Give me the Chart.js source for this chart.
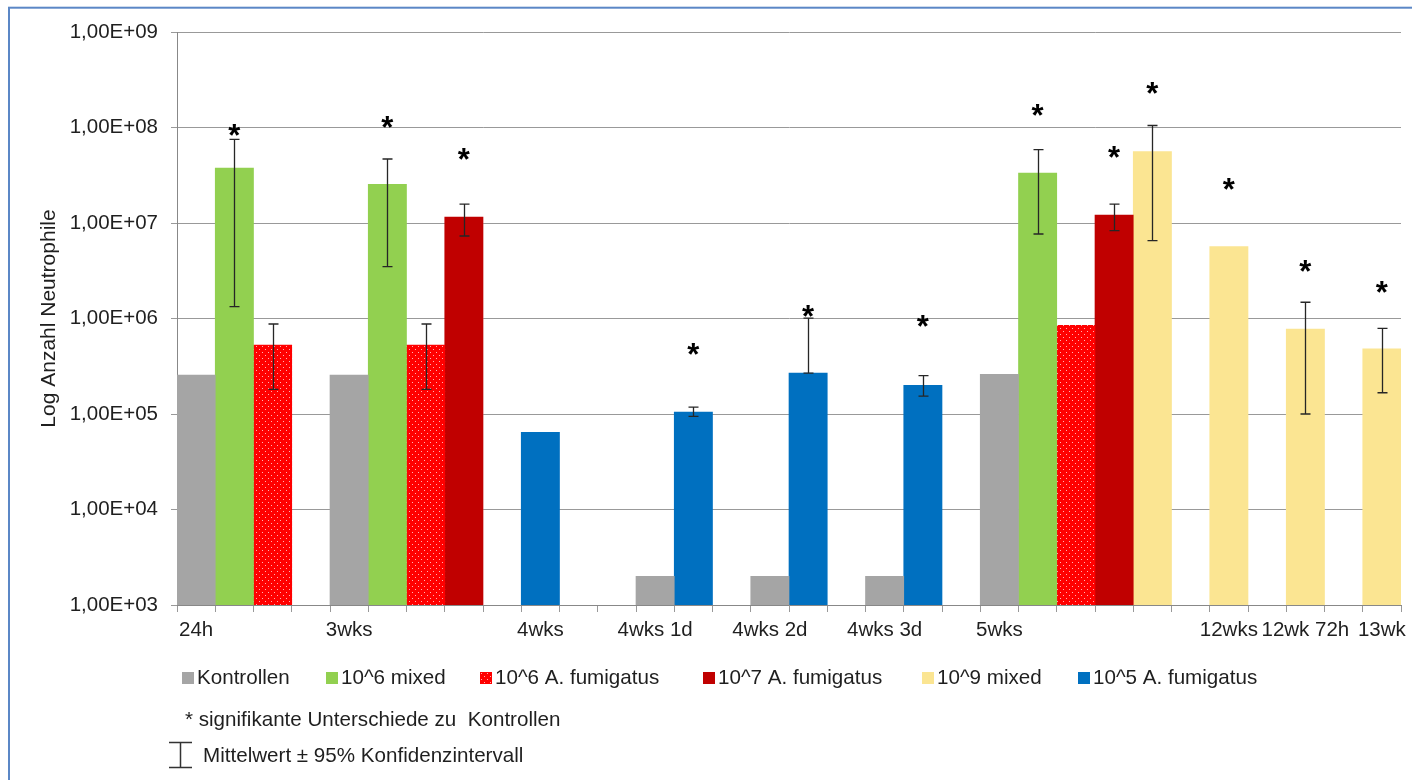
<!DOCTYPE html>
<html>
<head>
<meta charset="utf-8">
<title>Neutrophile</title>
<script src="https://cdn.jsdelivr.net/npm/chart.js@4.4.1/dist/chart.umd.min.js"></script>
<style>
  html, body { margin: 0; padding: 0; background: #fff; }
  #wrap { width: 1412px; height: 780px; }
</style>
</head>
<body>
<div id="wrap"><canvas id="chart" width="1412" height="780"></canvas></div>
<script>
const _ = null;

// one slot per bar position on the x axis
const slotLabels = ['24h', '', '', '', '3wks', '', '', '', '', '4wks', '', '', '4wks 1d', '', '', '4wks 2d', '', '',
    '4wks 3d', '', '', '5wks', '', '', '', '', '', '12wks', '', '12wk 72h', '', '13wk'];

const kontrollen = [2.56e5, _, _, _,  2.56e5, _, _, _, _,  _, _, _,  2e3, _, _,  2e3, _, _,  2e3, _, _,
    2.6e5, _, _, _, _, _,  _, _,  _, _,  _];
const mixed6 = [_, 3.77e7, _, _,  _, 2.54e7, _, _, _,  _, _, _,  _, _, _,  _, _, _,  _, _, _,
    _, 3.34e7, _, _, _, _,  _, _,  _, _,  _];
const fumigatus6 = [_, _, 5.28e5, _,  _, _, 5.28e5, _, _,  _, _, _,  _, _, _,  _, _, _,  _, _, _,
    _, _, 8.5e5, _, _, _,  _, _,  _, _,  _];
const fumigatus7 = [_, _, _, _,  _, _, _, 1.15e7, _,  _, _, _,  _, _, _,  _, _, _,  _, _, _,
    _, _, _, 1.21e7, _, _,  _, _,  _, _,  _];
const mixed9 = [_, _, _, _,  _, _, _, _, _,  _, _, _,  _, _, _,  _, _, _,  _, _, _,
    _, _, _, _, 5.58e7, _,  5.65e6, _,  7.76e5, _,  4.8e5];
const fumigatus5 = [_, _, _, _,  _, _, _, _, _,  6.43e4, _, _,  _, 1.05e5, _,  _, 2.69e5, _,  _, 2.0e5, _,
    _, _, _, _, _, _,  _, _,  _, _,  _];

// 95% confidence interval per slot
const ciLow = [_, 1.33e6, 1.81e5, _,  _, 3.49e6, 1.81e5, 7.31e6, _,  _, _, _,  _, 9.46e4, _,  _, 2.68e5, _,
    _, 1.54e5, _,  _, 7.67e6, _, 8.31e6, 6.53e6, _,  _, _,  1.0e5, _,  1.67e5];
const ciHigh = [_, 7.52e7, 8.76e5, _,  _, 4.68e7, 8.76e5, 1.58e7, _,  _, _, _,  _, 1.18e5, _,  _, 1.01e6, _,
    _, 2.52e5, _,  _, 5.86e7, _, 1.58e7, 1.05e8, _,  _, _,  1.48e6, _,  7.9e5];

// height of the significance asterisk per slot
const starLevel = [_, 9.65e7, _, _,  _, 1.18e8, _, 5.41e7, _,  _, _, _,  _, 4.93e5, _,  _, 1.24e6, _,
    _, 9.53e5, _,  _, 1.56e8, _, 5.67e7, 2.66e8, _,  2.62e7, _,  3.63e6, _,  2.19e6];

const yTicks = [1e3, 1e4, 1e5, 1e6, 1e7, 1e8, 1e9];
const yTickLabels = ['1,00E+03', '1,00E+04', '1,00E+05', '1,00E+06', '1,00E+07', '1,00E+08', '1,00E+09'];

const FONT = "'Liberation Sans', Arial, sans-serif";
const TEXT = '#1f1f1f';

function dotted(color) {
    const c = document.createElement('canvas');
    c.width = 6; c.height = 6;
    const g = c.getContext('2d');
    g.fillStyle = color;
    g.fillRect(0, 0, 6, 6);
    g.fillStyle = 'rgba(255,255,255,0.7)';
    g.fillRect(1, 1, 1, 1);
    g.fillRect(4, 4, 1, 1);
    return g.createPattern(c, 'repeat');
}

var errorBars = {
    id: 'errorBars',
    afterDatasetsDraw: function (chart) {
        const ctx = chart.ctx, x = chart.scales.x, y = chart.scales.y;
        ctx.save();
        ctx.strokeStyle = '#262626';
        ctx.lineWidth = 1.3;
        ciLow.forEach(function (lo, i) {
            const hi = ciHigh[i];
            if (lo == null || hi == null) return;
            const px = Math.round(x.getPixelForValue(i)) + 0.5;
            const top = y.getPixelForValue(hi), bot = y.getPixelForValue(lo);
            ctx.beginPath();
            ctx.moveTo(px, top); ctx.lineTo(px, bot);
            ctx.moveTo(px - 5, top); ctx.lineTo(px + 5, top);
            ctx.moveTo(px - 5, bot); ctx.lineTo(px + 5, bot);
            ctx.stroke();
        });
        ctx.fillStyle = '#000';
        ctx.font = 'bold 31px ' + FONT;
        ctx.textAlign = 'center';
        ctx.textBaseline = 'alphabetic';
        starLevel.forEach(function (v, i) {
            if (v == null) return;
            ctx.fillText('*', x.getPixelForValue(i), y.getPixelForValue(v) + 17);
        });
        ctx.restore();
    }
};

// legend, footnotes and frame
var decor = {
    id: 'decor',
    afterDraw: function (chart) {
        const ctx = chart.ctx;
        const legendX = [182, 326, 480, 703, 922, 1078];
        ctx.save();
        ctx.font = '20.6px ' + FONT;
        ctx.textBaseline = 'middle';
        ctx.textAlign = 'left';
        chart.data.datasets.forEach(function (ds, i) {
            ctx.fillStyle = ds.backgroundColor;
            ctx.fillRect(legendX[i], 672, 12, 12);
            ctx.fillStyle = TEXT;
            ctx.fillText(ds.label, legendX[i] + 15, 678);
        });
        ctx.fillText('* signifikante Unterschiede zu  Kontrollen', 185, 720);
        ctx.fillText('Mittelwert \u00b1 95% Konfidenzintervall', 203, 756);

        ctx.strokeStyle = '#333';
        ctx.lineWidth = 1.5;
        ctx.beginPath();
        ctx.moveTo(169, 742.5); ctx.lineTo(192, 742.5);
        ctx.moveTo(180.5, 742.5); ctx.lineTo(180.5, 767.5);
        ctx.moveTo(169, 767.5); ctx.lineTo(192, 767.5);
        ctx.stroke();

        ctx.strokeStyle = '#5b87c6';
        ctx.lineWidth = 2;
        ctx.strokeRect(9, 7.7, 1500, 900);
        ctx.restore();
    }
};

var neutroChart = new Chart(document.getElementById('chart'), {
    type: 'bar',
    data: {
        labels: slotLabels,
        datasets: [
            { label: 'Kontrollen', data: kontrollen, backgroundColor: '#a5a5a5' },
            { label: '10^6 mixed', data: mixed6, backgroundColor: '#92d050' },
            { label: '10^6 A. fumigatus', data: fumigatus6, backgroundColor: dotted('#ff0000') },
            { label: '10^7 A. fumigatus', data: fumigatus7, backgroundColor: '#c00000' },
            { label: '10^9 mixed', data: mixed9, backgroundColor: '#fbe592' },
            { label: '10^5 A. fumigatus', data: fumigatus5, backgroundColor: '#0070c0' }
        ]
    },
    options: {
        responsive: false,
        animation: false,
        datasets: { bar: { grouped: false, barPercentage: 1, categoryPercentage: 1 } },
        layout: { padding: { left: 0, top: 32, right: 11, bottom: 0 } },
        plugins: { legend: { display: false }, tooltip: { enabled: false } },
        scales: {
            x: {
                grid: { drawOnChartArea: false, tickLength: 7, color: '#999', offset: true },
                border: { color: '#888' },
                ticks: {
                    autoSkip: false, maxRotation: 0, minRotation: 0, padding: 6,
                    color: TEXT, font: { family: FONT, size: 20.5 }
                },
                afterFit: function (s) { s.height = 175; }
            },
            y: {
                type: 'logarithmic',
                min: 1e3,
                max: 1e9,
                afterBuildTicks: function (s) { s.ticks = yTicks.map(function (v) { return { value: v }; }); },
                ticks: {
                    padding: 13, color: TEXT, font: { family: FONT, size: 20.5 },
                    callback: function (v, i) { return yTickLabels[i]; }
                },
                grid: { color: '#999', tickLength: 6 },
                border: { color: '#888' },
                title: {
                    display: true, text: 'Log Anzahl Neutrophile', color: TEXT,
                    font: { family: FONT, size: 21 }, padding: { top: 37, bottom: 0 }
                },
                afterFit: function (s) { s.width = 177; }
            }
        }
    },
    plugins: [errorBars, decor]
});
</script>
</body>
</html>
